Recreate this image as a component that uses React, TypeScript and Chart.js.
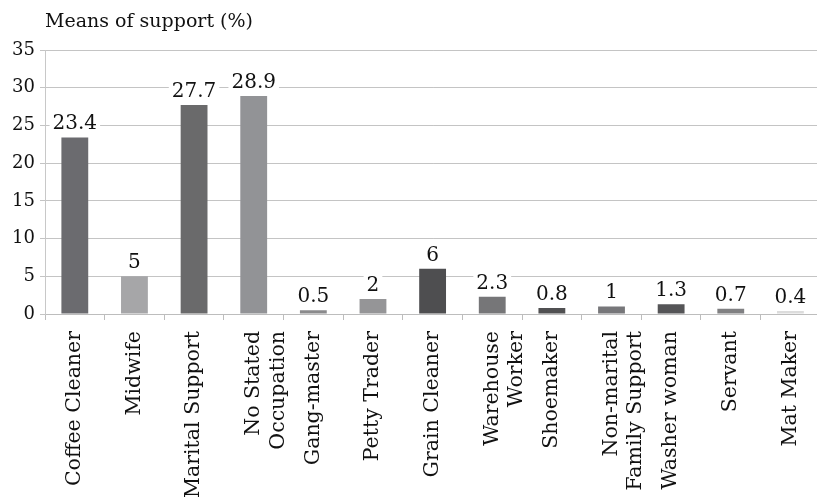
import React, { useEffect, useRef } from "react";
import { Chart, registerables } from "chart.js";

Chart.register(...registerables);

const categories: (string | string[])[] = [
  "Coffee Cleaner",
  "Midwife",
  "Marital Support",
  ["No Stated", "Occupation"],
  "Gang-master",
  "Petty Trader",
  "Grain Cleaner",
  ["Warehouse", "Worker"],
  "Shoemaker",
  ["Non-marital", "Family Support"],
  "Washer woman",
  "Servant",
  "Mat Maker",
];

const values: number[] = [23.4, 5, 27.7, 28.9, 0.5, 2, 6, 2.3, 0.8, 1, 1.3, 0.7, 0.4];

const barColors: string[] = [
  "#6b6b6f",
  "#a6a6a8",
  "#6a6a6b",
  "#929396",
  "#8a8a8c",
  "#959597",
  "#4e4e50",
  "#767678",
  "#505052",
  "#77777a",
  "#555557",
  "#808082",
  "#dcdcdc",
];

const yTicks = { min: 0, max: 35, step: 5 };
const axisTitle = "Means of support (%)";

const FONT = "'DejaVu Serif', serif";

const labelPlugin = {
  id: "valueLabels",
  afterDatasetsDraw(chart: any) {
    const ctx = chart.ctx;
    const meta = chart.getDatasetMeta(0);
    ctx.save();
    ctx.font = `20px ${FONT}`;
    ctx.textAlign = "center";
    ctx.textBaseline = "alphabetic";
    meta.data.forEach((bar: any, i: number) => {
      const txt = String(values[i]);
      const w = ctx.measureText(txt).width;
      const baseY = bar.y - 8;
      ctx.fillStyle = "#ffffff";
      ctx.fillRect(bar.x - w / 2 - 3, baseY - 18, w + 6, 22);
      ctx.fillStyle = "#111111";
      ctx.fillText(txt, bar.x, baseY);
    });
    ctx.restore();
  },
};

const titlePlugin = {
  id: "topTitle",
  afterDraw(chart: any) {
    const ctx = chart.ctx;
    ctx.save();
    ctx.font = `19px ${FONT}`;
    ctx.fillStyle = "#111111";
    ctx.textAlign = "left";
    ctx.textBaseline = "middle";
    ctx.fillText(axisTitle, chart.chartArea.left, 22);
    ctx.restore();
  },
};

export default function App() {
  const ref = useRef<HTMLCanvasElement>(null);
  useEffect(() => {
    if (!ref.current) return;
    const chart = new Chart(ref.current, {
      type: "bar",
      data: {
        labels: categories as any,
        datasets: [
          {
            data: values,
            backgroundColor: barColors,
            borderWidth: 0,
            categoryPercentage: 1,
            barPercentage: 0.45,
          },
        ],
      },
      options: {
        animation: false,
        responsive: false,
        maintainAspectRatio: false,
        layout: { padding: { top: 50, left: 0, right: 0, bottom: 0 } },
        plugins: {
          legend: { display: false },
          tooltip: { enabled: false },
          title: { display: false },
        },
        scales: {
          x: {
            offset: true,
            grid: {
              drawOnChartArea: false,
              drawTicks: true,
              tickLength: 6,
              color: "#bdbdbd",
              offset: true,
            },
            border: { color: "#bdbdbd", width: 1 },
            ticks: {
              minRotation: 90,
              maxRotation: 90,
              autoSkip: false,
              padding: 11,
              color: "#111111",
              font: { family: FONT, size: 20.5 },
            },
            afterFit(scale: any) {
              scale.height = 187;
            },
          },
          y: {
            min: yTicks.min,
            max: yTicks.max,
            ticks: {
              stepSize: yTicks.step,
              padding: 5,
              color: "#111111",
              font: { family: FONT, size: 18 },
            },
            grid: { color: "#c4c4c4", tickLength: 5, lineWidth: 1 },
            border: { color: "#c8c8c8", width: 1 },
            afterFit(scale: any) {
              scale.width = 45;
            },
          },
        },
      },
      plugins: [labelPlugin, titlePlugin],
    });
    return () => chart.destroy();
  }, []);
  return (
    <div
      style={{
        position: "fixed",
        left: 0,
        top: 0,
        width: 817,
        height: 501,
        overflow: "hidden",
        background: "#ffffff",
      }}
    >
      <canvas ref={ref} width={826} height={501} style={{ display: "block" }} />
    </div>
  );
}
